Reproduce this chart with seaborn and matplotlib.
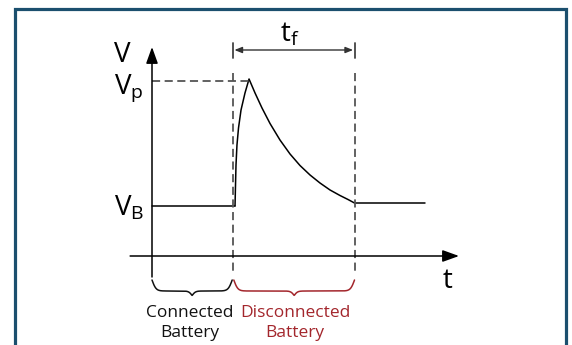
import numpy as np
import matplotlib
matplotlib.use("Agg")
import matplotlib.pyplot as plt
import seaborn as sns
from matplotlib.patches import Rectangle

sns.set_theme(style="white")
plt.rcParams["font.family"] = ["Open Sans", "DejaVu Sans"]
plt.rcParams["mathtext.fontset"] = "custom"
plt.rcParams["mathtext.rm"] = "Open Sans"
plt.rcParams["mathtext.it"] = "Open Sans:italic"
plt.rcParams["text.color"] = "black"

# schematic data (t in arbitrary time units, V in units of V_B)
t_disconnect = 1.0
t_recover = 2.5
v_battery = 1.0
v_peak = 3.54

t_connected = [0.0, 1.025]
v_connected = [1.0, 1.0]

t_spike = [1.025, 1.031, 1.037, 1.049, 1.068, 1.099, 1.148, 1.198,
           1.272, 1.358, 1.457, 1.580, 1.704, 1.827, 1.951, 2.074, 2.198,
           2.321, 2.420, 2.5]
v_spike = [1.0, 1.42, 1.82, 2.22, 2.56, 2.92, 3.26, 3.54,
           3.26, 2.96, 2.65, 2.32, 2.04, 1.81, 1.62, 1.46, 1.32,
           1.21, 1.13, 1.06]

t_after = [2.5, 3.37]
v_after = [1.06, 1.06]

phase_labels = ["Connected\nBattery", "Disconnected\nBattery"]
phase_colors = ["#111111", "#a3262c"]

# scale: pixels per unit
PX_T = 81.0
PX_V = 50.0

fig = plt.figure(figsize=(5.72, 3.45), dpi=100)
ax = fig.add_axes([0, 0, 1, 1])
ax.set_xlim(-152 / PX_T, 420 / PX_T)
ax.set_ylim(-89 / PX_V, 256 / PX_V)
ax.axis("off")

# frame
fig.patches.append(Rectangle((15.5 / 572, -0.1), 550 / 572, 1.1 - 9.5 / 345,
                             transform=fig.transFigure, fill=False,
                             edgecolor="#1b4f6e", lw=2.3))

# axes arrows
arrow = dict(arrowstyle="-|>,head_length=0.5,head_width=0.18", color="black",
             lw=1.1, mutation_scale=20, shrinkA=0, shrinkB=0)
ax.annotate("", xy=(0, 4.18), xytext=(0, -0.42), arrowprops=arrow)
ax.annotate("", xy=(3.79, 0), xytext=(-0.27, 0), arrowprops=arrow)

# curve
for tt, vv in [(t_connected, v_connected), (t_spike, v_spike), (t_after, v_after)]:
    sns.lineplot(x=tt, y=vv, sort=False, estimator=None, ax=ax,
                 color="black", lw=1.1)

# dashed guides
dash = dict(color="#555555", lw=1.3, dashes=(4.5, 2.5))
for t in [t_disconnect, t_recover]:
    ax.plot([t, t], [3.66, -0.38], **dash)
    ax.plot([t, t], [4.27, 3.96], color="#444444", lw=1.3)
ax.plot([0, 1.2], [v_peak - 0.04, v_peak - 0.04], **dash)

# t_f span arrow
ax.annotate("", xy=(t_recover, 4.12), xytext=(t_disconnect, 4.12),
            arrowprops=dict(arrowstyle="<|-|>,head_length=0.5,head_width=0.2",
                            color="#333333", lw=1.0, mutation_scale=9,
                            shrinkA=1, shrinkB=1))
ax.text(1.70, 4.28, r"$\mathrm{t_f}$", fontsize=20, ha="center", va="baseline")

# axis labels
ax.text(-0.47, 3.88, "V", fontsize=20, ha="left", va="baseline")
ax.text(-0.47, 3.26, r"$\mathrm{V_p}$", fontsize=20, ha="left", va="baseline")
ax.text(-0.47, 0.82, r"$\mathrm{V_B}$", fontsize=20, ha="left", va="baseline")
ax.text(3.654, -0.64, "t", fontsize=20, ha="center", va="baseline")


def brace(t0, t1, v_top, color):
    t = np.linspace(t0, t1, 400)
    tm = (t0 + t1) / 2
    d = np.minimum(t - t0, t1 - t) * PX_T
    dm = np.abs(t - tm) * PX_T
    drop = 11 * (2 / (1 + np.exp(-0.5 * d)) - 1) + 9 / (1 + np.exp(0.6 * dm))
    ax.plot(t, v_top - drop / PX_V, color=color, lw=1.1)


spans = [(0.0, t_disconnect - 0.01), (t_disconnect + 0.01, t_recover)]
centers = [0.469, 1.765]
for (t0, t1), c, lab, col in zip(spans, centers, phase_labels, phase_colors):
    brace(t0, t1, -0.48, col)
    line1, line2 = lab.split("\n")
    ax.text(c, -1.22, line1, fontsize=12.5, color=col, ha="center", va="baseline")
    ax.text(c, -1.62, line2, fontsize=12.5, color=col, ha="center", va="baseline")

fig.savefig("out.png", dpi=100)
